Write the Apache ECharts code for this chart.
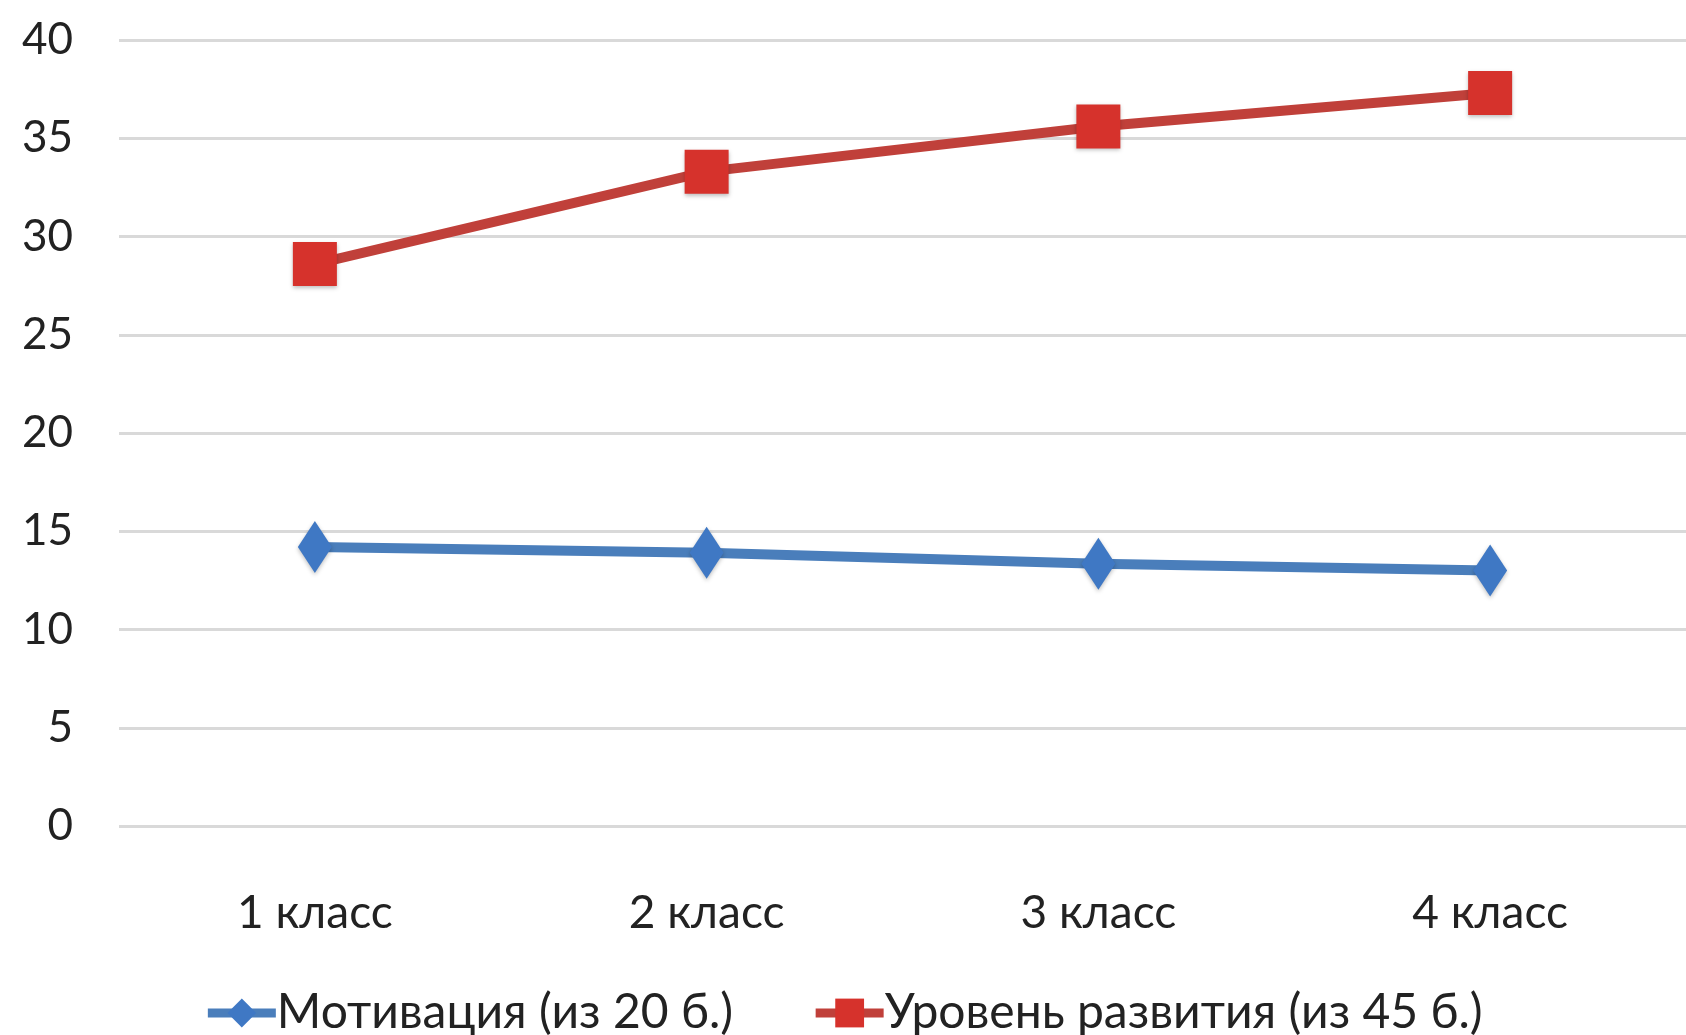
<!DOCTYPE html>
<html><head><meta charset="utf-8">
<script src="https://cdn.jsdelivr.net/npm/echarts@6/dist/echarts.min.js"></script>
<style>html,body{margin:0;padding:0;background:#fff}#c{width:1686px;height:1035px}</style>
</head><body><div id="c"></div>
<script>
const categories = ['1 класс', '2 класс', '3 класс', '4 класс'];
const motivation = [14.2, 13.9, 13.35, 13.0];
const development = [28.6, 33.3, 35.6, 37.3];
const yTicks = [0, 5, 10, 15, 20, 25, 30, 35, 40];
const seriesNames = ['Мотивация (из 20 б.)', 'Уровень развития (из 45 б.)'];

const FONT = 'Lato';
const chart = echarts.init(document.getElementById('c'), null, {renderer: 'canvas'});
chart.setOption({
  animation: false,
  backgroundColor: '#ffffff',
  grid: {left: 119, right: 0, top: 40, bottom: 209, containLabel: false},
  legend: {
    top: 983, left: 'center', itemGap: 78, itemWidth: 68, itemHeight: 36,
    textStyle: {fontFamily: FONT, fontSize: 48, lineHeight: 50, color: '#222', padding: [0, 0, 0, -4]},
    lineStyle: {width: 9},
    data: seriesNames
  },
  xAxis: {
    type: 'category', data: categories, boundaryGap: true,
    axisLine: {show: false}, axisTick: {show: false},
    axisLabel: {fontFamily: FONT, fontSize: 46, color: '#222', margin: 64}
  },
  yAxis: {
    type: 'value', min: 0, max: 40, interval: 5,
    axisLine: {show: false}, axisTick: {show: false},
    splitLine: {lineStyle: {color: '#d9d9d9', width: 3}},
    axisLabel: {fontFamily: FONT, fontSize: 44, color: '#222', margin: 46,
      formatter: v => yTicks.includes(v) ? String(v) : ''}
  },
  series: [
    {
      name: seriesNames[0], type: 'line', data: motivation,
      symbol: 'diamond', symbolSize: [34, 52],
      lineStyle: {color: '#4a7ebb', width: 10},
      itemStyle: {color: '#3f78c4', shadowColor: 'rgba(0,0,0,0.25)', shadowBlur: 4, shadowOffsetY: 2}
    },
    {
      name: seriesNames[1], type: 'line', data: development,
      symbol: 'rect', symbolSize: 44,
      lineStyle: {color: '#c0403a', width: 10},
      itemStyle: {color: '#d6322c', borderRadius: 5, shadowColor: 'rgba(0,0,0,0.25)', shadowBlur: 4, shadowOffsetY: 2}
    }
  ]
});
</script></body></html>
